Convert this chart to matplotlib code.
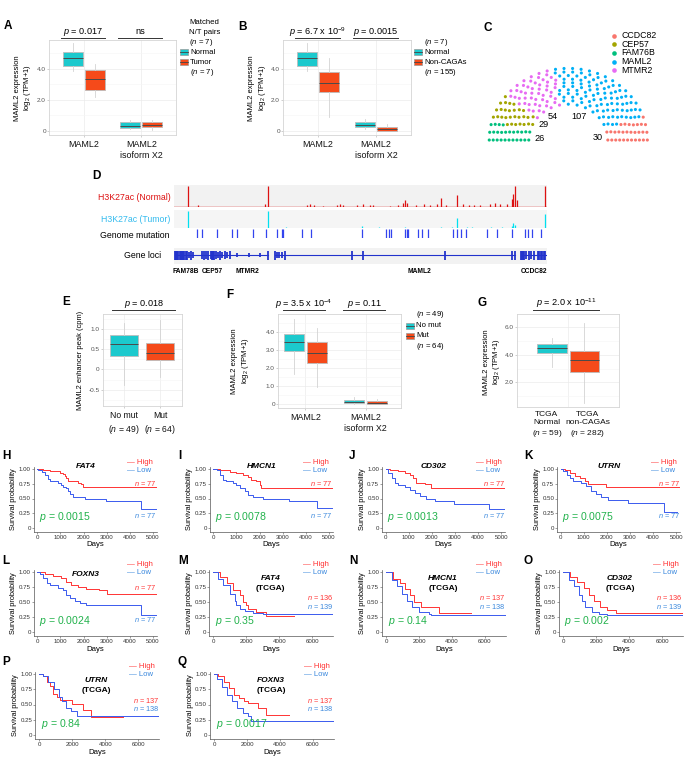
import numpy as np
import matplotlib
matplotlib.use('Agg')
import matplotlib.pyplot as plt
from matplotlib.patches import Rectangle

plt.rcParams['font.family'] = ['Liberation Sans', 'DejaVu Sans']
plt.rcParams['mathtext.fontset'] = 'custom'
plt.rcParams['mathtext.rm'] = 'Liberation Sans'
plt.rcParams['mathtext.it'] = 'Liberation Sans:italic'
plt.rcParams['mathtext.bf'] = 'Liberation Sans:bold'
plt.rcParams['axes.linewidth'] = 0.6

# ======================= DATA =======================
# Box panels: five-number summaries [whislo, q1, median, q3, whishi]
box_categories = ['MAML2', 'MAML2\nisoform X2']
A_normal = [[3.89, 4.17, 4.72, 5.10, 5.68], [0.11, 0.21, 0.35, 0.56, 0.71]]
A_tumor = [[2.17, 2.65, 3.34, 3.94, 4.32], [0.06, 0.26, 0.39, 0.56, 0.71]]
A_pvals = ['$p$ = 0.017', 'ns']
B_normal = [[3.89, 4.17, 4.72, 5.10, 5.68], [0.13, 0.26, 0.39, 0.56, 0.75]]
B_noncaga = [[0.89, 2.49, 3.10, 3.78, 4.72], [0.0, 0.02, 0.13, 0.24, 0.43]]
B_pvals = ['$p$ = 6.7 x 10$^{-9}$', '$p$ = 0.0015']

C_genes = ['FAM76B', 'CEP57', 'MTMR2', 'MAML2', 'CCDC82']
C_counts = [26, 29, 54, 107, 30]
C_colors = ['#00BF7D', '#A3A500', '#E76BF3', '#00B0F6', '#F8766D']
C_legend = ['CCDC82', 'CEP57', 'FAM76B', 'MAML2', 'MTMR2']

E_groups = ['No mut\n($n$ = 49)', 'Mut\n($n$ = 64)']
E_stats = [[-0.39, 0.32, 0.63, 0.85, 1.15], [-0.19, 0.24, 0.41, 0.64, 1.22]]
E_pval = '$p$ = 0.018'
F_nomut = [[1.66, 2.97, 3.43, 3.89, 4.70], [0.0, 0.06, 0.13, 0.24, 0.42]]
F_mut = [[0.94, 2.27, 2.86, 3.43, 4.21], [0.0, 0.04, 0.10, 0.18, 0.29]]
F_pvals = ['$p$ = 3.5 x 10$^{-4}$', '$p$ = 0.11']
G_groups = ['TCGA\nNormal\n($n$ = 59)', 'TCGA\nnon-CAGAs\n($n$ = 282)']
G_stats = [[3.14, 4.11, 4.47, 4.76, 5.24], [0.49, 2.73, 3.60, 4.28, 6.33]]
G_pval = '$p$ = 2.0 x 10$^{-11}$'

# D: genome track (relative genomic position 0-1000)
norm_pos = [38, 65, 244, 251, 356, 365, 374, 400, 437, 445, 454, 490, 507, 525, 534, 579,
            600, 615, 619, 624, 650, 669, 687, 705, 715, 730, 760, 776, 790, 803, 820, 847,
            861, 874, 892, 905, 910, 914, 919, 995]
norm_h = [1.0, 0.08, 0.12, 1.0, 0.10, 0.12, 0.08, 0.06, 0.10, 0.12, 0.08, 0.10, 0.12, 0.10,
          0.08, 0.06, 0.08, 0.20, 0.35, 0.20, 0.08, 0.12, 0.10, 0.12, 0.45, 0.10, 0.55, 0.12,
          0.10, 0.10, 0.08, 0.15, 0.20, 0.15, 0.12, 0.40, 0.60, 1.0, 0.35, 1.0]
tum_pos = [38, 251, 300, 503, 550, 619, 715, 745, 760, 785, 800, 850, 880, 905, 910, 914, 995]
tum_h = [1.0, 1.0, 0.05, 0.15, 0.10, 0.10, 0.10, 0.06, 0.60, 0.08, 0.06, 0.05, 0.06, 0.15,
         0.30, 0.20, 0.80]
mut_pos = [61, 74, 114, 155, 168, 213, 247, 275, 289, 293, 344, 366, 503, 568, 577, 582, 619,
           624, 628, 655, 666, 682, 749, 758, 769, 782, 838, 865, 905, 941, 950, 959, 983]
gene_segments = [(3, 253), (270, 913), (929, 996)]
exon_pos = [3, 6, 9, 12, 15, 18, 21, 25, 28, 31, 35, 40, 45, 50, 74, 80, 86, 92, 98, 101, 104,
            107, 112, 118, 124, 130, 136, 142, 150, 170, 200, 230, 253, 270, 276, 282, 290, 298,
            477, 507, 726, 905, 913, 929, 932, 935, 938, 945, 952, 958, 965, 975, 979, 983, 987,
            991, 995]
exon_h = [0.5, 0.5, 0.5, 0.5, 0.5, 0.5, 0.5, 0.5, 0.5, 0.5, 0.5, 0.3, 0.5, 0.3, 0.4, 0.5, 0.4,
          0.5, 0.4, 0.5, 0.5, 0.5, 0.4, 0.3, 0.5, 0.3, 0.4, 0.3, 0.4, 0.2, 0.2, 0.2, 0.5, 0.5,
          0.3, 0.3, 0.3, 0.5, 0.5, 0.5, 0.5, 0.5, 0.5, 0.5, 0.5, 0.5, 0.5, 0.4, 0.5, 0.4, 0.5,
          0.5, 0.5, 0.5, 0.5, 0.5, 0.5]
gene_names = ['FAM78B', 'CEP57', 'MTMR2', 'MAML2', 'CCDC82']
gene_name_pos = [32, 102, 196, 657, 965]

# Kaplan-Meier curves (step change points: days, survival)
H_hi_t = [0, 250, 550, 750, 970, 1110, 1190, 1260, 1330, 1760, 1900, 1970]
H_hi_s = [1.0, 0.98, 0.97, 0.96, 0.93, 0.91, 0.88, 0.84, 0.80, 0.77, 0.74, 0.69]
H_lo_t = [0, 45, 185, 330, 470, 545, 760, 900, 1045, 1115, 1260, 1330, 1430, 1545, 1760, 2045, 2975, 4475]
H_lo_s = [1.0, 0.99, 0.955, 0.89, 0.83, 0.80, 0.79, 0.76, 0.73, 0.70, 0.67, 0.63, 0.57, 0.53, 0.52, 0.49, 0.45, 0.33]
I_hi_t = [0, 285, 715, 1000, 1290, 1500, 1645, 1860, 2000, 2070]
I_hi_s = [1.0, 0.98, 0.955, 0.93, 0.90, 0.87, 0.81, 0.80, 0.73, 0.67]
I_lo_t = [0, 145, 285, 430, 570, 860, 1000, 1145, 1360, 1500, 1715, 2145, 3290, 4500]
I_lo_s = [1.0, 0.98, 0.89, 0.81, 0.80, 0.76, 0.73, 0.67, 0.62, 0.56, 0.53, 0.49, 0.45, 0.34]
J_hi_t = [0, 185, 545, 830, 1045, 1185, 1300, 1690, 1975]
J_hi_s = [1.0, 0.99, 0.97, 0.93, 0.89, 0.84, 0.77, 0.74, 0.68]
J_lo_t = [0, 115, 255, 400, 545, 830, 1045, 1260, 1475, 1760, 2115, 2975, 4475]
J_lo_s = [1.0, 0.93, 0.85, 0.77, 0.73, 0.70, 0.65, 0.60, 0.54, 0.50, 0.46, 0.41, 0.32]
K_hi_t = [0, 185, 400, 615, 830, 1045, 1185, 1975]
K_hi_s = [1.0, 0.98, 0.93, 0.88, 0.84, 0.79, 0.75, 0.69]
K_lo_t = [0, 115, 255, 400, 545, 900, 1115, 1330, 1545, 1760, 2045, 2905, 4475]
K_lo_s = [1.0, 0.96, 0.89, 0.84, 0.79, 0.77, 0.71, 0.63, 0.57, 0.52, 0.47, 0.43, 0.27]
L_hi_t = [0, 330, 685, 1045, 1260, 1475, 1760, 2115, 2690, 3005]
L_hi_s = [1.0, 0.97, 0.94, 0.90, 0.84, 0.78, 0.75, 0.72, 0.70, 0.64]
L_lo_t = [0, 115, 255, 400, 545, 900, 1115, 1260, 1400, 1615, 1830, 2115, 4475]
L_lo_s = [1.0, 0.97, 0.90, 0.81, 0.78, 0.74, 0.70, 0.62, 0.57, 0.51, 0.48, 0.45, 0.28]
M_hi_t = [0, 400, 800, 1200, 1600, 1800, 2000, 2100, 2600, 3200]
M_hi_s = [1.0, 0.92, 0.81, 0.70, 0.62, 0.50, 0.45, 0.39, 0.33, 0.27]
M_lo_t = [0, 300, 600, 1000, 1300, 1400, 1600, 1900, 2400, 3000]
M_lo_s = [1.0, 0.89, 0.78, 0.64, 0.51, 0.45, 0.39, 0.35, 0.32, 0.30]
N_hi_t = [0, 450, 865, 1175, 1480, 1700, 2100, 3240]
N_hi_s = [1.0, 0.89, 0.81, 0.72, 0.62, 0.50, 0.42, 0.31]
N_lo_t = [0, 350, 660, 970, 1280, 1590, 2000, 2620, 2720]
N_lo_s = [1.0, 0.87, 0.76, 0.64, 0.51, 0.42, 0.34, 0.30, 0.28]
O_hi_t = [0, 445, 855, 1260, 1560, 1870, 2270, 2680, 3190]
O_hi_s = [1.0, 0.92, 0.84, 0.73, 0.62, 0.51, 0.42, 0.37, 0.31]
O_lo_t = [0, 345, 650, 955, 1160, 1360, 1770, 2170, 2680]
O_lo_s = [1.0, 0.87, 0.76, 0.62, 0.51, 0.42, 0.34, 0.30, 0.28]
P_hi_t = [0, 250, 450, 660, 860, 1070, 1240, 2000, 2620, 3130]
P_hi_s = [1.0, 0.97, 0.87, 0.80, 0.68, 0.62, 0.57, 0.51, 0.41, 0.29]
P_lo_t = [0, 250, 555, 865, 1175, 1380, 1590, 1900, 2310]
P_lo_s = [1.0, 0.96, 0.87, 0.75, 0.63, 0.55, 0.45, 0.40, 0.31]
Q_hi_t = [0, 270, 580, 895, 1200, 1520, 1830, 2040, 2660, 3180]
Q_hi_s = [1.0, 0.97, 0.87, 0.77, 0.66, 0.60, 0.55, 0.52, 0.45, 0.33]
Q_lo_t = [0, 165, 480, 790, 1100, 1410, 1730, 2040, 2250]
Q_lo_s = [1.0, 0.91, 0.79, 0.66, 0.55, 0.44, 0.36, 0.31, 0.235]
km_labels = ['H', 'I', 'J', 'K', 'L', 'M', 'N', 'O', 'P', 'Q']
km_genes = ['FAT4', 'HMCN1', 'CD302', 'UTRN', 'FOXN3', 'FAT4', 'HMCN1', 'CD302', 'UTRN', 'FOXN3']
km_tcga = [False] * 5 + [True] * 5
km_pvals = ['0.0015', '0.0078', '0.0013', '0.0075', '0.0024', '0.35', '0.14', '0.002', '0.84', '0.0017']
km_n_high = [77, 77, 77, 77, 77, 136, 137, 136, 137, 137]
km_n_low = [77, 77, 77, 77, 77, 139, 138, 139, 138, 138]
km_end_high = [5120, 5150, 5190, 5120, 5120, 4900, 5150, 7250, 5090, 4530]
km_end_low = [5120, 5150, 5190, 5050, 5120, 7250, 7400, 7250, 7300, 7300]

# ======================= STYLE / LAYOUT =======================
CYAN = '#1CC9CD'
ORANGE = '#F54A1A'
RED = '#FF3333'
BLUE = '#3A5AEE'
BLUE_T = '#3A88DD'
GREEN = '#22B24C'

W, H = 685, 758
fig = plt.figure(figsize=(W / 100, H / 100), dpi=100)


def px_ax(x0, y0, x1, y1, **kw):
    return fig.add_axes([x0 / W, 1 - y1 / H, (x1 - x0) / W, (y1 - y0) / H], **kw)


def ftxt(x, y, s, **kw):
    kw.setdefault('ha', 'left')
    kw.setdefault('va', 'center')
    fig.text(x / W, 1 - y / H, s, **kw)


def letter(x, y, s):
    ftxt(x, y, s, fontsize=8.5, fontweight='bold')


ov = px_ax(0, 0, W, H, zorder=10)
ov.set_xlim(0, W)
ov.set_ylim(H, 0)
ov.axis('off')

LEG_FS = 5.6


def box_axes(rect, xlim, ylim, yticks, ylabels, minor):
    ax = px_ax(*rect)
    ax.set_xlim(*xlim)
    ax.set_ylim(*ylim)
    for s in ax.spines.values():
        s.set_color('#D4D4D4')
        s.set_linewidth(0.6)
    ax.set_yticks(yticks)
    ax.set_yticklabels(ylabels)
    ax.set_yticks(minor, minor=True)
    ax.grid(True, which='major', axis='y', color='#EBEBEB', lw=0.5)
    ax.grid(True, which='minor', axis='y', color='#F5F5F5', lw=0.4)
    ax.tick_params(axis='y', which='minor', length=0)
    ax.tick_params(axis='y', length=1.2, width=0.4, color='#AAAAAA', pad=1.2,
                   labelsize=4.6, labelcolor='#555555')
    ax.tick_params(axis='x', length=1.2, width=0.4, color='#AAAAAA', pad=2.5,
                   labelsize=6.4, labelcolor='#111111')
    ax.set_axisbelow(True)
    return ax


def draw_boxes(ax, positions, stats, color, width):
    st = [dict(whislo=s[0], q1=s[1], med=s[2], q3=s[3], whishi=s[4], fliers=[]) for s in stats]
    ax.bxp(st, positions=positions, widths=width, patch_artist=True, showcaps=False,
           showfliers=False, manage_ticks=False,
           boxprops=dict(facecolor=color, edgecolor='#BDBDBD', lw=0.6),
           medianprops=dict(color='#4A4A4A', lw=0.7),
           whiskerprops=dict(color='#D3D3D3', lw=0.6))


def sig(ax, x0, x1, text, yline, ytext):
    tr = ax.get_xaxis_transform()
    ax.plot([x0, x1], [yline, yline], transform=tr, color='#333333', lw=0.7, clip_on=False)
    ax.text((x0 + x1) / 2, ytext, text, transform=tr, ha='center', va='center', fontsize=6.6)


def key(x, y, color, s):
    ov.add_patch(Rectangle((x, y - 2.8), 8, 5.6, facecolor=color, edgecolor='#9A9A9A', lw=0.5))
    ov.plot([x, x + 8], [y, y], color='#444444', lw=0.6)
    ftxt(x + 10, y, s, fontsize=LEG_FS)


def ylab(x, y, s, fs=5.5):
    ftxt(x, y, s, fontsize=fs, rotation=90, ha='center', va='center', linespacing=1.15)


ylab_expr = 'MAML2 expression\nlog$_2$ (TPM+1)'

# ---------------- A ----------------
letter(4, 26, 'A')
cats = np.arange(1, len(box_categories) + 1)
d, bw = 0.19, 0.345
axA = box_axes((49.3, 40, 175.7, 135), (0.4, 2.6), (-0.26, 5.87), [0, 2, 4],
               ['0', '2.0', '4.0'], [1, 3, 5])
axA.set_xticks(cats)
axA.set_xticklabels(box_categories)
axA.grid(True, which='major', axis='x', color='#EBEBEB', lw=0.5)
draw_boxes(axA, cats - d, A_normal, CYAN, bw)
draw_boxes(axA, cats + d, A_tumor, ORANGE, bw)
for c, p in zip(cats, A_pvals):
    sig(axA, c - 0.4, c + 0.37, p, 1.022, 1.085)
ylab(23.5, 88, ylab_expr)
ftxt(189, 22, 'Matched', fontsize=LEG_FS)
ftxt(189, 32, 'N/T pairs', fontsize=LEG_FS)
ftxt(189, 42.5, '($n$ = 7)', fontsize=LEG_FS)
key(180, 52, CYAN, 'Normal')
key(180, 62, ORANGE, 'Tumor')
ftxt(190, 72, '($n$ = 7)', fontsize=LEG_FS)

# ---------------- B ----------------
letter(238, 27, 'B')
axB = box_axes((283.3, 40, 410.7, 135), (0.4, 2.6), (-0.26, 5.87), [0, 2, 4],
               ['0', '2.0', '4.0'], [1, 3, 5])
axB.set_xticks(cats)
axB.set_xticklabels(box_categories)
axB.grid(True, which='major', axis='x', color='#EBEBEB', lw=0.5)
draw_boxes(axB, cats - d, B_normal, CYAN, bw)
draw_boxes(axB, cats + d, B_noncaga, ORANGE, bw)
for c, p in zip(cats, B_pvals):
    sig(axB, c - 0.4, c + 0.38, p, 1.022, 1.085)
ylab(258, 88, ylab_expr)
ftxt(424, 42.5, '($n$ = 7)', fontsize=LEG_FS)
key(414, 52, CYAN, 'Normal')
key(414, 62, ORANGE, 'Non-CAGAs')
ftxt(424, 72, '($n$ = 155)', fontsize=LEG_FS)

# ---------------- C (parliament) ----------------
letter(483, 28, 'C')
rows = 11
seats = sum(C_counts)
radii = np.linspace(1, 2, rows)
px, py, pth, prow = [], [], [], []
remaining = seats
for i in range(rows):
    if i < rows - 1:
        cnt = int(np.floor(remaining * radii[i] / radii[i:].sum() + 0.5))
    else:
        cnt = remaining
    remaining -= cnt
    th = np.linspace(0, np.pi, cnt)
    px += list(radii[i] * np.cos(th))
    py += list(radii[i] * np.sin(th))
    pth += list(th)
    prow += [i] * cnt
px, py, pth, prow = map(np.array, (px, py, pth, prow))
order = np.lexsort((-prow, -pth))
px, py = px[order], py[order]
seat_color = np.repeat(C_colors, C_counts)
axC = px_ax(485.3, 63, 651.3, 145.4)
axC.set_xlim(-2.1, 2.1)
axC.set_ylim(-0.15, 2.15)
axC.axis('off')
axC.scatter(px, py, s=5.0, c=seat_color, linewidths=0)
C_label_xy = [(-0.72, 0.03), (-0.62, 0.42), (-0.40, 0.67), (0.28, 0.67), (0.74, 0.06)]
for (lx, ly), n in zip(C_label_xy, C_counts):
    axC.text(lx, ly, str(n), fontsize=6.6, ha='center', va='center')
for i, g in enumerate(C_legend):
    yy = 35.7 + i * 8.6
    ov.scatter([614], [yy], s=11, color=C_colors[C_genes.index(g)], linewidths=0)
    ftxt(621, yy, g, fontsize=6.3)

# ---------------- D (genome tracks) ----------------
letter(92, 176, 'D')
X0, X1 = 174, 547
axN = px_ax(X0, 185, X1, 207)
axT = px_ax(X0, 210, X1, 228.3)
axM = px_ax(X0, 229, X1, 238)
axG = px_ax(X0, 247.7, X1, 264.3)
for a in (axN, axT, axM, axG):
    a.set_xlim(0, 1000)
    a.set_ylim(0, 1.05)
    a.set_xticks([])
    a.set_yticks([])
    for s in a.spines.values():
        s.set_visible(False)
axN.set_facecolor('#F2F2F2')
axT.set_facecolor('#F5F5F5')
axM.set_facecolor('none')
axG.set_facecolor('#F2F2F2')
axN.vlines(norm_pos, 0, norm_h, color='#DD1111', lw=0.9)
axN.axhline(0.02, color='#DD1111', lw=1.0)
axT.vlines(tum_pos, 0, tum_h, color='#00E0F0', lw=0.9)
axT.axhline(0.02, color='#7DEEF5', lw=0.6)
axM.vlines(mut_pos, 0, 1, color='#3344EE', lw=0.9)
for s0, s1 in gene_segments:
    axG.plot([s0, s1], [0.56, 0.56], color='#2233CC', lw=0.8)
axG.vlines(exon_pos, 0.56 - np.array(exon_h) / 1.6, 0.56 + np.array(exon_h) / 1.6,
           color='#2233CC', lw=1.3)
for nm, gp in zip(gene_names, gene_name_pos):
    axG.text(gp, -0.42, nm, fontsize=4.8, fontweight='bold', ha='center', va='center',
             transform=axG.get_xaxis_transform())
ftxt(171, 197, 'H3K27ac (Normal)', fontsize=6.3, ha='right', color='#DD1111')
ftxt(170.5, 220, 'H3K27ac (Tumor)', fontsize=6.3, ha='right', color='#33BBEE')
ftxt(169.3, 236, 'Genome mutation', fontsize=6.3, ha='right')
ftxt(160.7, 256, 'Gene loci', fontsize=6.3, ha='right')

# ---------------- E ----------------
letter(62, 302, 'E')
axE = box_axes((103, 314.3, 182, 406), (0.42, 2.6), (-0.9, 1.355), [-0.5, 0, 0.5, 1.0],
               ['-0.5', '0', '0.5', '1.0'], [-0.75, -0.25, 0.25, 0.75, 1.25])
axE.set_xticks([1, 2])
axE.set_xticklabels(E_groups, fontsize=6.2, linespacing=1.3)
axE.grid(True, which='major', axis='x', color='#EBEBEB', lw=0.5)
draw_boxes(axE, [1], [E_stats[0]], CYAN, 0.78)
draw_boxes(axE, [2], [E_stats[1]], ORANGE, 0.78)
sig(axE, 0.66, 2.42, E_pval, 1.045, 1.115)
ylab(81, 360, 'MAML2 enhancer peak (cpm)', fs=5.4)

# ---------------- F ----------------
letter(226, 295, 'F')
axF = box_axes((278.3, 314.3, 401, 408.3), (0.55, 2.59), (-0.22, 4.98), [0, 1, 2, 3, 4],
               ['0', '1.0', '2.0', '3.0', '4.0'], [0.5, 1.5, 2.5, 3.5, 4.5])
axF.set_xticks(cats)
axF.set_xticklabels(box_categories)
axF.grid(True, which='major', axis='x', color='#EBEBEB', lw=0.5)
draw_boxes(axF, cats - d, F_nomut, CYAN, 0.33)
draw_boxes(axF, cats + d, F_mut, ORANGE, 0.33)
sig(axF, 0.63, 1.33, F_pvals[0], 1.045, 1.112)
sig(axF, 1.62, 2.33, F_pvals[1], 1.045, 1.112)
ylab(241, 361, ylab_expr)
ftxt(416, 314.3, '($n$ = 49)', fontsize=LEG_FS)
key(406, 325.7, CYAN, 'No mut')
key(406, 335.7, ORANGE, 'Mut')
ftxt(416, 346.7, '($n$ = 64)', fontsize=LEG_FS)

# ---------------- G ----------------
letter(478, 303, 'G')
axG2 = box_axes((517.3, 314.3, 619, 407.3), (0.37, 1.63), (0.2, 6.93), [2, 4, 6],
                ['2.0', '4.0', '6.0'], [1, 3, 5])
axG2.axvline(1, color='#EBEBEB', lw=0.5, zorder=0)
axG2.set_xticks([0.735, 1.24])
axG2.set_xticklabels(G_groups, fontsize=6.0, linespacing=1.3)
axG2.tick_params(axis='x', length=0)
draw_boxes(axG2, [0.8], [G_stats[0]], CYAN, 0.36)
draw_boxes(axG2, [1.2], [G_stats[1]], ORANGE, 0.36)
sig(axG2, 0.57, 1.38, G_pval, 1.046, 1.118)
ylab(492.5, 362, ylab_expr)

# ---------------- H-Q (Kaplan-Meier) ----------------
km_hi_t = [H_hi_t, I_hi_t, J_hi_t, K_hi_t, L_hi_t, M_hi_t, N_hi_t, O_hi_t, P_hi_t, Q_hi_t]
km_hi_s = [H_hi_s, I_hi_s, J_hi_s, K_hi_s, L_hi_s, M_hi_s, N_hi_s, O_hi_s, P_hi_s, Q_hi_s]
km_lo_t = [H_lo_t, I_lo_t, J_lo_t, K_lo_t, L_lo_t, M_lo_t, N_lo_t, O_lo_t, P_lo_t, Q_lo_t]
km_lo_s = [H_lo_s, I_lo_s, J_lo_s, K_lo_s, L_lo_s, M_lo_s, N_lo_s, O_lo_s, P_lo_s, Q_lo_s]

km_day0 = [37.3, 213.3, 385.7, 560.7, 37.3, 213.3, 386, 563, 39.3, 214]
km_row = [0, 0, 0, 0, 1, 1, 1, 1, 2, 2]
row_y = [(469, 528), (572, 632), (674, 735)]
letter_x = [2, 178, 349, 524, 2, 178, 349, 524, 2, 178]
letter_y = [456, 561, 662]
YLO, YHI = -0.068, 1.04

for k in range(10):
    tcga = km_tcga[k]
    x0 = km_day0[k]
    y1, y0 = row_y[km_row[k]]
    ppu = y0 - y1
    if tcga:
        sc, xmin, xmax, xt = 0.0165, -240, 7270, [0, 2000, 4000, 6000]
    else:
        sc, xmin, xmax, xt = 0.0231, -150, 5170, [0, 1000, 2000, 3000, 4000, 5000]
    left, right = x0 + xmin * sc, x0 + xmax * sc
    top, bot = y1 - (YHI - 1) * ppu, y0 - YLO * ppu
    ax = px_ax(left, top, right, bot)
    ax.set_xlim(xmin, xmax)
    ax.set_ylim(YLO, YHI)
    for s in ('top', 'right'):
        ax.spines[s].set_visible(False)
    for s in ('left', 'bottom'):
        ax.spines[s].set_color('#555555')
        ax.spines[s].set_linewidth(0.5)
    ax.set_xticks(xt)
    ax.set_xticklabels([str(v) for v in xt])
    ax.set_yticks([0, 0.25, 0.5, 0.75, 1.0])
    ax.set_yticklabels(['0', '0.25', '0.50', '0.75', '1.00'])
    ax.tick_params(length=1.2, width=0.4, pad=1, labelsize=4.4, labelcolor='#333333',
                   color='#555555')
    th, sh = km_hi_t[k], km_hi_s[k]
    tl, sl = km_lo_t[k], km_lo_s[k]
    ax.step(list(th) + [km_end_high[k]], list(sh) + [sh[-1]], where='post', color=RED, lw=0.7)
    ax.step(list(tl) + [km_end_low[k]], list(sl) + [sl[-1]], where='post', color=BLUE, lw=0.7)
    ax.set_xlabel('Days', fontsize=5.6, labelpad=1)
    ax.set_ylabel('Survival probability', fontsize=5.3, labelpad=1)
    hpx = bot - top
    wpx = right - left
    fy = lambda ypx: (bot - ypx) / hpx
    fx = lambda xpx: (xpx - left) / wpx
    tx = x0 + (57 if tcga else 48)
    if tcga:
        ax.text(fx(tx), fy(y1 + 7), km_genes[k], transform=ax.transAxes, fontsize=6,
                fontweight='bold', fontstyle='italic', ha='center', va='center')
        ax.text(fx(tx), fy(y1 + 16), '(TCGA)', transform=ax.transAxes, fontsize=6,
                fontweight='bold', ha='center', va='center')
        ax.text(1.0, fy(y0 - 0.57 * ppu), '$n$ = %d' % km_n_high[k], transform=ax.transAxes,
                fontsize=5.3, color=RED, ha='right', va='center')
        ax.text(1.0, fy(y0 - 0.43 * ppu), '$n$ = %d' % km_n_low[k], transform=ax.transAxes,
                fontsize=5.3, color=BLUE_T, ha='right', va='center')
    else:
        ax.text(fx(tx), fy(y1 - 2 if km_row[k] == 0 else y1 + 2), km_genes[k],
                transform=ax.transAxes, fontsize=6, fontweight='bold', fontstyle='italic',
                ha='center', va='center')
        ax.text(1.0, fy(y0 - 0.75 * ppu), '$n$ = %d' % km_n_high[k], transform=ax.transAxes,
                fontsize=5.3, color=RED, ha='right', va='center')
        ax.text(1.0, fy(y0 - 0.21 * ppu), '$n$ = %d' % km_n_low[k], transform=ax.transAxes,
                fontsize=5.3, color=BLUE_T, ha='right', va='center')
    ax.text(fx(x0 + 1.5), fy(y0 - 0.18 * ppu), '$p$ = ' + km_pvals[k], transform=ax.transAxes,
            fontsize=7.6, color=GREEN, ha='left', va='center')
    ax.text(fx(x0 + 90), fy(y1 - 7), '— High', transform=ax.transAxes, fontsize=5.6,
            color=RED, ha='left', va='center')
    ax.text(fx(x0 + 90), fy(y1 + 1), '— Low', transform=ax.transAxes, fontsize=5.6,
            color=BLUE_T, ha='left', va='center')
    letter(letter_x[k], letter_y[km_row[k]], km_labels[k])

fig.savefig('out.png', dpi=100)
